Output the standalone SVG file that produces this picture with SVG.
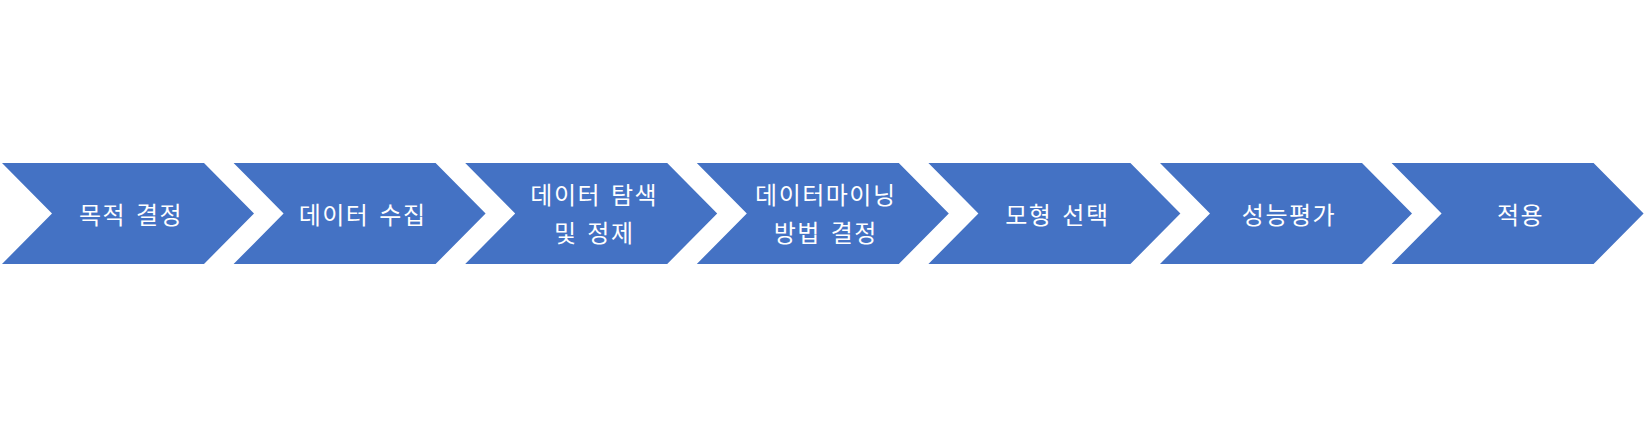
<svg xmlns="http://www.w3.org/2000/svg" width="1652" height="443" viewBox="0 0 1652 443">
<style>
.chev{fill:#4472C4;}
.lbl{fill:#ffffff;font-family:"Noto Sans CJK KR","Liberation Sans",sans-serif;font-size:24px;letter-spacing:1.5px;word-spacing:3px;text-anchor:middle;dominant-baseline:central;}
</style>
<defs>
<polygon id="chevron" points="0,163 202,163 252,213.5 202,264 0,264 50,213.5"/>
</defs>
<rect width="1652" height="443" fill="#ffffff"/>
<g id="connectors"></g>
<g id="n1" transform="translate(2,0)"><use href="#chevron" class="chev"/><text class="lbl" x="129" y="213">목적 결정</text></g>
<g id="n2" transform="translate(233.6,0)"><use href="#chevron" class="chev"/><text class="lbl" x="129" y="213">데이터 수집</text></g>
<g id="n3" transform="translate(465.2,0)"><use href="#chevron" class="chev"/><text class="lbl" x="129" y="193">데이터 탐색</text><text class="lbl" x="129" y="231">및 정제</text></g>
<g id="n4" transform="translate(696.8,0)"><use href="#chevron" class="chev"/><text class="lbl" x="129" y="193">데이터마이닝</text><text class="lbl" x="129" y="231">방법 결정</text></g>
<g id="n5" transform="translate(928.4,0)"><use href="#chevron" class="chev"/><text class="lbl" x="129" y="213">모형 선택</text></g>
<g id="n6" transform="translate(1160,0)"><use href="#chevron" class="chev"/><text class="lbl" x="129" y="213">성능평가</text></g>
<g id="n7" transform="translate(1391.6,0)"><use href="#chevron" class="chev"/><text class="lbl" x="129" y="213">적용</text></g>
</svg>
